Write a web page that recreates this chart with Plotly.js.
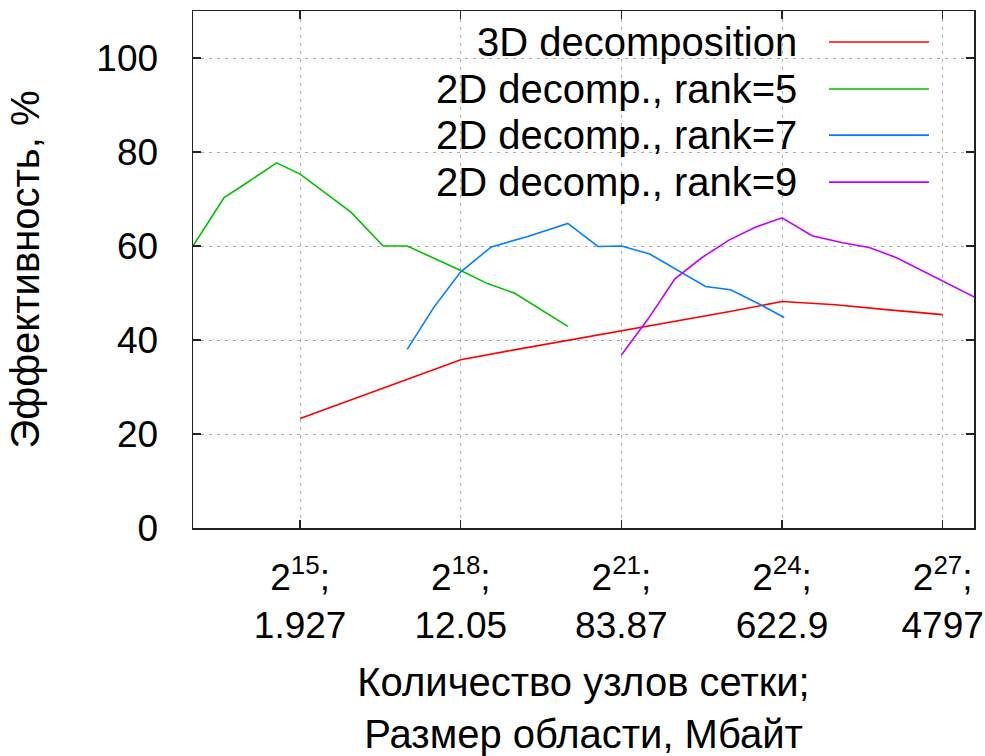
<!DOCTYPE html>
<html>
<head>
<meta charset="utf-8">
<script src="https://cdn.plot.ly/plotly-3.0.1.min.js"></script>
<style>html,body{margin:0;padding:0;background:#fff;}#chart{width:985px;height:756px;}</style>
</head>
<body>
<div id="chart"></div>
<script>
// x values are log2(number of grid nodes)
const seriesNames = ["3D decomposition", "2D decomp., rank=5", "2D decomp., rank=7", "2D decomp., rank=9"];
const seriesColors = ["#ff0000", "#00c000", "#0080ff", "#c000ff"];

const x3D = [15, 16, 17, 18, 19, 20, 21, 22, 23, 24, 25, 26, 27];
const y3D = [23.3, 27.5, 31.6, 35.8, 37.9, 39.9, 42, 44, 46, 48.2, 47.5, 46.4, 45.4];

const xRank5 = [13, 13.58, 14, 14.56, 15, 15.54, 15.95, 16.55, 17, 18, 18.5, 19, 20];
const yRank5 = [60, 70.3, 73.4, 77.7, 75.3, 70.8, 67.2, 60, 60, 54.8, 52, 50, 42.9];

const xRank7 = [17, 17.5, 18, 18.57, 19.25, 20, 20.56, 21, 21.53, 22.07, 22.57, 23.04, 23.6, 24.04];
const yRank7 = [38, 47, 54.5, 59.8, 62, 64.8, 59.9, 60, 58.3, 54.7, 51.4, 50.7, 47.5, 44.8];

const xRank9 = [21, 21.5, 22, 22.5, 23, 23.5, 24, 24.56, 25.13, 25.63, 26.14, 27, 28];
const yRank9 = [36.8, 44.5, 53, 57.5, 61.2, 64, 66, 62.2, 60.7, 59.7, 57.5, 52.5, 46.8];

const xTickVals = [15, 18, 21, 24, 27];
const xTickPow = ["15", "18", "21", "24", "27"];
const xTickMb = ["1.927", "12.05", "83.87", "622.9", "4797"];
const yTickVals = [0, 20, 40, 60, 80, 100];

const xs = [x3D, xRank5, xRank7, xRank9];
const ys = [y3D, yRank5, yRank7, yRank9];

const FONT = "Liberation Sans, Arial, Helvetica, sans-serif";
const FS = 37;
const FS_BIG = 40;

const traces = xs.map((xv, i) => ({
  type: "scatter", mode: "lines", x: xv, y: ys[i], name: seriesNames[i],
  line: {color: seriesColors[i], width: 1.6}, showlegend: false, hoverinfo: "skip"
}));

// legend drawn gnuplot-style: right-aligned text, sample line on the right
const legRowY = [0.940, 0.849, 0.760, 0.669];
const shapes = [{
  type: "rect", xref: "paper", yref: "paper", x0: 0.2494, x1: 0.9667, y0: 0.642, y1: 1,
  fillcolor: "#ffffff", line: {width: 0}, layer: "between"
}];
const annotations = [];
seriesNames.forEach((n, i) => {
  annotations.push({
    xref: "paper", yref: "paper", x: 0.7758, y: legRowY[i], xanchor: "right", yanchor: "middle",
    text: n, showarrow: false, font: {family: FONT, size: FS_BIG, color: "#000"}
  });
  shapes.push({
    type: "line", xref: "paper", yref: "paper", x0: 0.8143, x1: 0.9424, y0: legRowY[i], y1: legRowY[i],
    line: {color: seriesColors[i], width: 1.6}, layer: "above"
  });
});

const layout = {
  width: 985, height: 756,
  margin: {l: 193, r: 11, t: 11, b: 228},
  paper_bgcolor: "#fff", plot_bgcolor: "#fff",
  font: {family: FONT, size: FS, color: "#000"},
  xaxis: {
    range: [13, 27.585], tickvals: xTickVals,
    ticktext: xTickPow.map((p, i) => "2<sup>" + p + "</sup>;<br>" + xTickMb[i]),
    ticks: "inside", ticklen: 8, tickwidth: 1.5, tickcolor: "#222",
    showline: true, linecolor: "#222", linewidth: 1.5, mirror: "ticks",
    showgrid: true, gridcolor: "#ababab", gridwidth: 1, griddash: "3px,5px",
    zeroline: false, ticklabelstandoff: 16,
    title: {text: "Количество узлов сетки;<br>Размер области, Мбайт", font: {family: FONT, size: FS_BIG}, standoff: 25}
  },
  yaxis: {
    range: [0, 110], tickvals: yTickVals,
    ticks: "inside", ticklen: 8, tickwidth: 1.5, tickcolor: "#222",
    showline: true, linecolor: "#222", linewidth: 1.5, mirror: "ticks",
    showgrid: true, gridcolor: "#ababab", gridwidth: 1, griddash: "3px,5px",
    zeroline: false, ticklabelstandoff: 26,
    title: {text: "Эффективность, %", font: {family: FONT, size: FS_BIG}, standoff: 44}
  },
  shapes: shapes,
  annotations: annotations,
  showlegend: false
};

Plotly.newPlot("chart", traces, layout, {displayModeBar: false, staticPlot: true});
</script>
</body>
</html>
